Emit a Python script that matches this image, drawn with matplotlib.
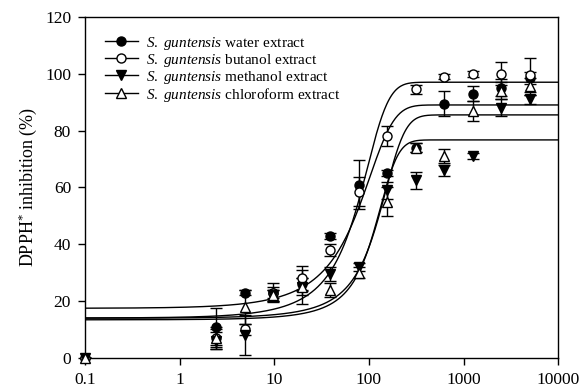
import numpy as np
import matplotlib
matplotlib.use('Agg')
import matplotlib.pyplot as plt
from matplotlib.ticker import FixedLocator, FixedFormatter, NullLocator

plt.rcParams['font.family'] = ['Liberation Serif', 'DejaVu Serif']
plt.rcParams['mathtext.fontset'] = 'custom'
plt.rcParams['mathtext.rm'] = 'Liberation Serif'
plt.rcParams['mathtext.it'] = 'Liberation Serif:italic'

# concentrations (log scale)
conc = [0.1, 2.44, 4.88, 9.77, 19.53, 39.06, 78.13, 156.25, 312.5, 625, 1250, 2500, 5000]

water = [0, 11, 23, 23, 26, 43, 61, 65, 74, 89.5, 93, 95, 98.5]
water_err = [0, 6.5, 1, 2, 2, 1, 8.5, 1, 1.5, 4.5, 2.5, 3, 2]
butanol = [0, 7, 10, 23, 28, 38, 58.5, 78, 94.5, 99, 100, 100, 99.5]
butanol_err = [0, 3, 2, 3.5, 4.5, 2, 5, 3.5, 1.5, 1, 1, 4, 6]
methanol = [0, 6, 8, 22, 25, 29.5, 32, 59, 62.5, 66, 71, 88, 91]
methanol_err = [0, 3, 7, 2, 6, 2.5, 1.5, 3, 3, 2, 1, 3, 1.5]
chloroform = [0, 7, 18, 22, 25, 24, 30, 55, 74, 71, 87, 94, 95.5]
chloroform_err = [0, 4, 6, 2, 3, 2.5, 2, 5, 1.5, 2.5, 3.5, 3, 3]

# fitted sigmoid (y0 + a / (1 + exp(-(x - x0) / b))) parameters
fit_water = (-1.4, 90.4, 60.0, 45.0)
fit_butanol = (2.8, 94.2, 70.0, 35.0)
fit_methanol = (9.9, 66.8, 110.0, 38.0)
fit_chloroform = (8.1, 77.4, 120.0, 48.0)

labels = ['water extract', 'butanol extract', 'methanol extract', 'chloroform extract']
x_ticks = [0.1, 1, 10, 100, 1000, 10000]
x_ticklabels = ['0.1', '1', '10', '100', '1000', '10000']


def sigmoid(x, p):
    y0, a, x0, b = p
    return y0 + a / (1 + np.exp(-(x - x0) / b))


fig = plt.figure(figsize=(5.82, 3.92), dpi=100)
ax = fig.add_axes([0.146, 0.087, 0.813, 0.870])

xx = np.logspace(-1, 4, 600)
for p in [fit_water, fit_butanol, fit_methanol, fit_chloroform]:
    ax.plot(xx, sigmoid(xx, p), color='black', lw=1.0, zorder=2)

series = [
    (water, water_err, 'o', 'black'),
    (butanol, butanol_err, 'o', 'white'),
    (methanol, methanol_err, 'v', 'black'),
    (chloroform, chloroform_err, '^', 'white'),
]
handles = []
for (vals, err, mk, fc), lab in zip(series, labels):
    ax.errorbar(conc, vals, yerr=err, fmt='none', ecolor='black',
                elinewidth=1.0, capsize=4, capthick=1.0, zorder=3)
    ax.plot(conc, vals, ls='none', marker=mk, ms=6.5, mfc=fc,
            mec='black', mew=1.0, zorder=4, clip_on=False)
    hl, = ax.plot([], [], color='black', lw=1.0, marker=mk, ms=6.5,
                  mfc=fc, mec='black', mew=1.0)
    handles.append(hl)

ax.set_xscale('log')
ax.set_xlim(0.1, 10000)
ax.set_ylim(0, 120)
ax.xaxis.set_major_locator(FixedLocator(x_ticks))
ax.xaxis.set_major_formatter(FixedFormatter(x_ticklabels))
ax.xaxis.set_minor_locator(NullLocator())
ax.set_yticks(range(0, 121, 20))
ax.tick_params(direction='out', length=5, width=1, labelsize=12.5, pad=5)
for s in ax.spines.values():
    s.set_linewidth(1.0)

ax.set_ylabel(r'DPPH$^{*}$ inhibition (%)', fontsize=13, labelpad=4)

leg_labels = [r'$\it{S.\ guntensis}$ ' + l for l in labels]
leg = ax.legend(handles, leg_labels, loc='upper left', bbox_to_anchor=(0.022, 0.975),
                frameon=False, fontsize=11, handlelength=2.2, handletextpad=0.5,
                labelspacing=0.0, borderaxespad=0.2)

fig.savefig('out.png', dpi=100)
